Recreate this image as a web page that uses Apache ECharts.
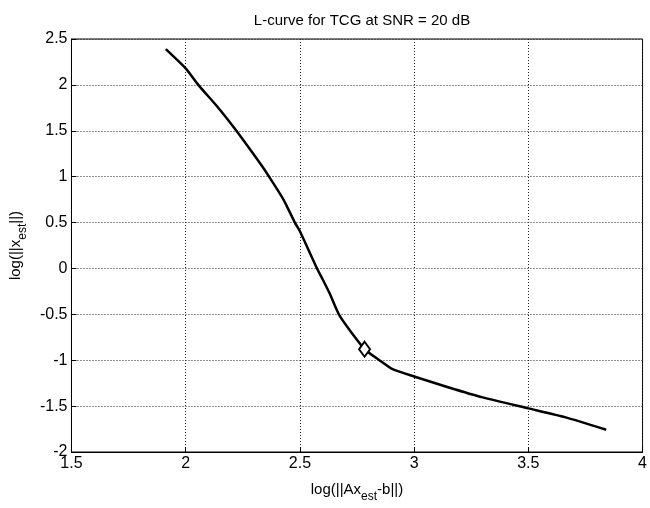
<!DOCTYPE html>
<html>
<head>
<meta charset="utf-8">
<script src="https://cdn.jsdelivr.net/npm/echarts@6/dist/echarts.min.js"></script>
<style>
  html, body { margin: 0; padding: 0; background: #fff; }
  #main { width: 650px; height: 508px; }
</style>
</head>
<body>
<div id="main"></div>
<script>
  // L-curve points: log residual norm vs log solution norm
  var residualLog = [1.913, 2.00, 2.055, 2.138, 2.222, 2.283, 2.34, 2.365, 2.428, 2.478, 2.50, 2.575, 2.60, 2.63, 2.675, 2.783, 2.848, 2.906, 3.00, 3.152, 3.30, 3.50, 3.66, 3.841];
  var solutionLog = [2.39, 2.18, 2.00, 1.764, 1.50, 1.293, 1.095, 1.00, 0.75, 0.50, 0.406, 0.00, -0.12, -0.27, -0.52, -0.88, -1.00, -1.098, -1.177, -1.297, -1.405, -1.525, -1.62, -1.757];
  // chosen corner point
  var cornerPoint = [2.783, -0.88];

  var curve = [];
  for (var i = 0; i < residualLog.length; i++) {
    curve.push([residualLog[i], solutionLog[i]]);
  }

  var fontFam = '"Liberation Sans", Arial, Helvetica, sans-serif';

  var myChart = echarts.init(document.getElementById('main'));
  myChart.setOption({
    backgroundColor: '#fff',
    animation: false,
    title: {
      text: 'L-curve for TCG at SNR = 20 dB',
      left: 357,
      textAlign: 'center',
      top: 8,
      textStyle: { fontFamily: fontFam, fontSize: 15, fontWeight: 'normal', color: '#000' }
    },
    grid: {
      left: 70, right: 5, top: 39, bottom: 55,
      show: true, borderColor: '#000', borderWidth: 1, backgroundColor: '#fff'
    },
    xAxis: {
      type: 'value',
      min: 1.5, max: 4, interval: 0.5,
      name: '{a|log(||Ax}{s|est}{a|-b||)}',
      nameLocation: 'middle',
      nameGap: 24,
      nameTextStyle: {
        rich: {
          a: { fontFamily: fontFam, fontSize: 15, color: '#000' },
          s: { fontFamily: fontFam, fontSize: 12, color: '#000', padding: [15, 0, 0, 0] }
        }
      },
      axisLine: { onZero: false, lineStyle: { color: '#000', width: 1 } },
      axisTick: { inside: true, length: 5, lineStyle: { color: '#000' } },
      axisLabel: {
        fontFamily: fontFam, fontSize: 16, color: '#000', margin: 4,
        formatter: function (v) { return String(v); }
      },
      splitLine: { show: true, lineStyle: { type: [1, 2], color: '#222', width: 1 } }
    },
    yAxis: {
      type: 'value',
      min: -2, max: 2.5, interval: 0.5,
      name: '{a|log(||x}{s|est}{a|||)}',
      nameLocation: 'middle',
      nameGap: 42,
      nameRotate: 90,
      nameTextStyle: {
        rich: {
          a: { fontFamily: fontFam, fontSize: 15, color: '#000' },
          s: { fontFamily: fontFam, fontSize: 12, color: '#000', padding: [15, 0, 0, 0] }
        }
      },
      axisLine: { onZero: false, lineStyle: { color: '#000', width: 1 } },
      axisTick: { inside: true, length: 5, lineStyle: { color: '#000' } },
      axisLabel: {
        fontFamily: fontFam, fontSize: 16, color: '#000', margin: 4,
        formatter: function (v) { return String(v); }
      },
      splitLine: { show: true, lineStyle: { type: [1, 2], color: '#222', width: 1 } }
    },
    series: [
      {
        name: 'L-curve',
        type: 'line',
        data: curve,
        smooth: 0.2,
        showSymbol: false,
        lineStyle: { color: '#000', width: 2.5, join: 'round' }
      },
      {
        name: 'corner',
        type: 'scatter',
        data: [cornerPoint],
        symbol: 'diamond',
        symbolSize: [11, 15],
        itemStyle: { color: '#ffffff', opacity: 1, borderColor: '#000', borderWidth: 2 },
        emphasis: { disabled: true },
        z: 5
      }
    ]
  });
</script>
</body>
</html>
